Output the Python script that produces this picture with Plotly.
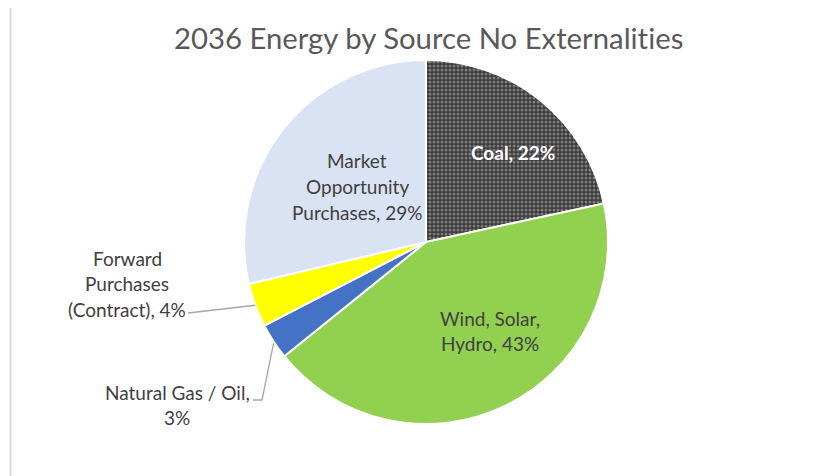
import math
import plotly.graph_objects as go

# ---- data ----
labels = ["Coal", "Wind, Solar, Hydro", "Natural Gas / Oil",
          "Forward Purchases (Contract)", "Market Opportunity Purchases"]
values = [21.6, 42.6, 3.2, 3.9, 28.7]
display_lines = [
    ["Coal, {p}"],
    ["Wind, Solar,", "Hydro, {p}"],
    ["Natural Gas / Oil,", "{p}"],
    ["Forward", "Purchases", "(Contract), {p}"],
    ["Market", "Opportunity", "Purchases, {p}"],
]
colors = ["#3a3a3a", "#92D050", "#4472C4", "#FFFF00", "#DAE3F3"]
title_text = "2036 Energy by Source No Externalities"

W, H = 827, 476
OFF = 8  # page body margin
CX, CY, R = 426, 242, 182  # pie centre / radius in page pixels


def px(x):
    return (x - OFF) / W


def py(y):
    return 1 - (y - OFF) / H


def no_lig(s):
    # zero-width non-joiner between "t" and "i" to avoid font ligatures
    return s.replace("ti", "t\u200ci")


total = sum(values)
pcts = [f"{round(v / total * 100)}%" for v in values]

fig = go.Figure(go.Pie(
    labels=labels,
    values=values,
    sort=False,
    direction="clockwise",
    rotation=0,
    textinfo="none",
    hoverinfo="label+percent",
    marker=dict(
        colors=colors,
        line=dict(color="white", width=2),
        pattern=dict(
            shape=[".", "", "", "", ""],
            fgcolor=["#bdbdbd", "#92D050", "#4472C4", "#FFFF00", "#DAE3F3"],
            bgcolor=["#3a3a3a", "#92D050", "#4472C4", "#FFFF00", "#DAE3F3"],
            fillmode="overlay",
            size=4,
            solidity=0.45,
        ),
    ),
    domain=dict(x=[px(CX - R), px(CX + R)], y=[py(CY + R), py(CY - R)]),
    showlegend=False,
))

FONT = "Lato, Carlito, sans-serif"
label_pos = [(513, 152), (490, 318), (177, 392), (127, 258), (357, 161)]
line_gap = 25.5
annotations = []
for i, lines in enumerate(display_lines):
    x0, y0 = label_pos[i]
    for j, ln in enumerate(lines):
        txt = no_lig(ln.format(p=pcts[i]))
        bold = i == 0
        annotations.append(dict(
            x=px(x0), y=py(y0 + j * line_gap), xref="paper", yref="paper",
            text=f"<b>{txt}</b>" if bold else txt, showarrow=False,
            xanchor="center", yanchor="middle",
            font=dict(family=FONT, size=19,
                      color="white" if bold else "#404040"),
        ))


def edge_point(idx):
    start = sum(values[:idx]) / total * 360
    mid = start + values[idx] / total * 180
    a = math.radians(mid)
    return CX + R * math.sin(a), CY - R * math.cos(a)


shapes = []
ex, ey = edge_point(3)
shapes.append(dict(type="path", xref="paper", yref="paper",
                   path=f"M {px(188)} {py(313)} L {px(ex)} {py(ey)}",
                   line=dict(color="#a6a6a6", width=1.3)))
ex, ey = edge_point(2)
shapes.append(dict(type="path", xref="paper", yref="paper",
                   path=f"M {px(253)} {py(400)} L {px(262)} {py(400)} L {px(ex)} {py(ey + 2)}",
                   line=dict(color="#a6a6a6", width=1.3)))
shapes.append(dict(type="line", xref="paper", yref="paper",
                   x0=px(10.5), x1=1, y0=py(3.5), y1=py(3.5),
                   line=dict(color="#d9d9d9", width=2)))
shapes.append(dict(type="line", xref="paper", yref="paper",
                   x0=px(10.5), x1=px(10.5), y0=py(3.5), y1=0,
                   line=dict(color="#d9d9d9", width=2)))

annotations.append(dict(
    x=px(428), y=py(37), xref="paper", yref="paper", text=no_lig(title_text),
    showarrow=False, xanchor="center", yanchor="middle",
    font=dict(family=FONT, size=29.3, color="#595959"),
))

fig.update_layout(
    width=W, height=H,
    margin=dict(l=0, r=0, t=0, b=0),
    paper_bgcolor="white", plot_bgcolor="white",
    annotations=annotations, shapes=shapes,
)

fig.write_html("out.html")
